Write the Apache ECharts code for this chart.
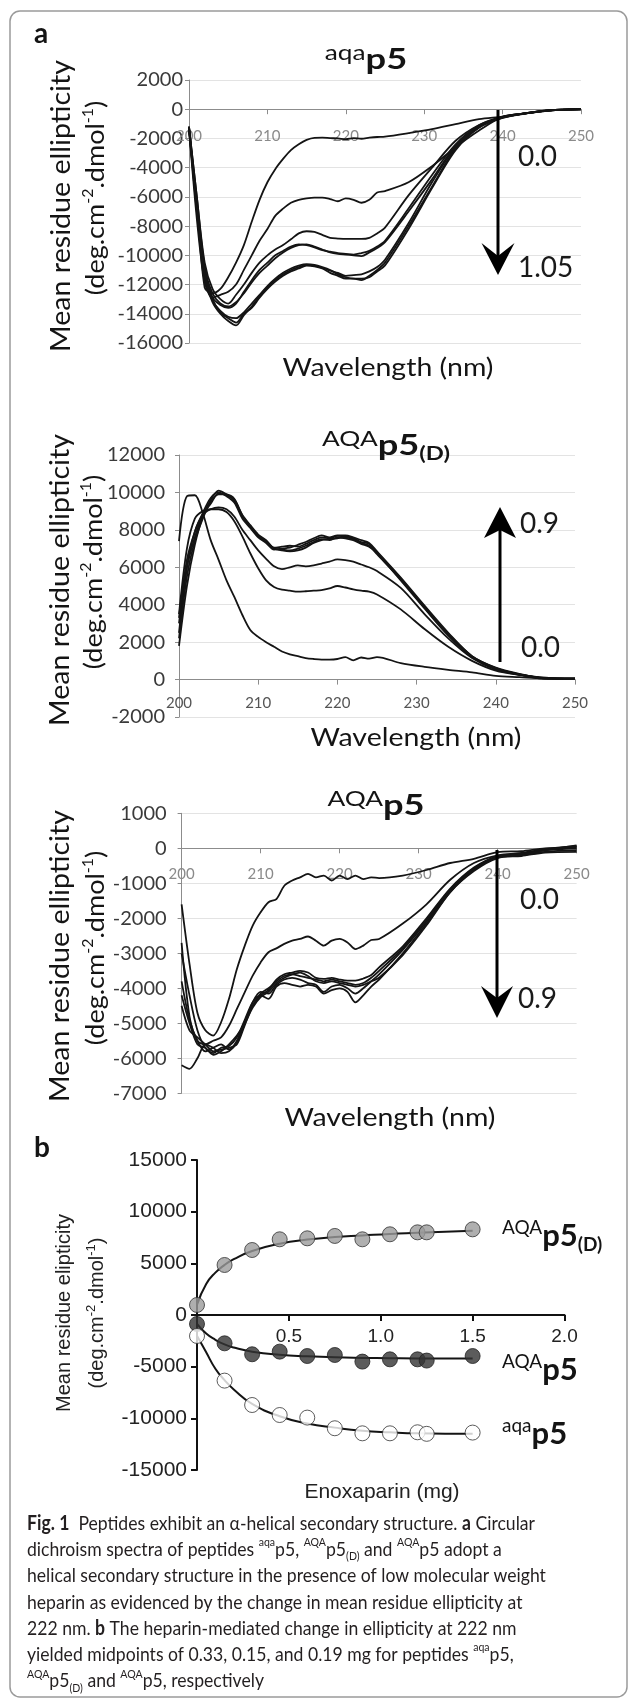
<!DOCTYPE html>
<html><head><meta charset="utf-8">
<script src="https://cdn.jsdelivr.net/npm/echarts@6/dist/echarts.min.js"></script>
<style>html,body{margin:0;padding:0;background:#fff}#c{width:630px;height:1700px}</style>
</head><body><div id="c"></div><script>
// ---------- DATA ----------
// wavelengths (nm) shared by all CD spectra
const WL = [200,201,202,203,204,205,206,207,208,209,210,211,212,213,214,215,216,217,218,219,220,221,222,223,224,225,228,231,234,237,240,243,246,250];

// panel a, top: aqa-p5 spectra (enoxaparin 0.0 -> 1.05 mg)
const aqa_000 = [-1500,-6500,-12200,-12600,-12300,-11500,-10500,-9300,-7700,-6200,-5000,-4100,-3400,-2800,-2400,-2100,-1960,-1950,-1980,-2000,-2050,-1980,-2020,-1950,-1900,-1880,-1640,-1370,-1020,-680,-500,-260,-70,-20];
const aqa_015 = [-1300,-7500,-11800,-12900,-12700,-12500,-12000,-11000,-10000,-9000,-8200,-7300,-6800,-6400,-6200,-6100,-6050,-6050,-6150,-6300,-6100,-6200,-6400,-6200,-5700,-5600,-5000,-3900,-2600,-1450,-520,-280,-80,0];
const aqa_030 = [-1200,-6000,-10500,-12300,-13000,-13300,-12700,-12000,-11200,-10500,-10000,-9600,-9300,-8900,-8500,-8350,-8400,-8600,-8800,-8850,-8880,-8880,-8880,-8800,-8500,-8100,-5900,-4000,-2160,-1080,-500,-280,-80,0];
const aqa_045 = [-1200,-6000,-10800,-12600,-13300,-13500,-13200,-12600,-11850,-11200,-10700,-10200,-9800,-9500,-9300,-9250,-9400,-9600,-9800,-9900,-9950,-10000,-10050,-9800,-9500,-9100,-7000,-4800,-2500,-1150,-550,-280,-90,0];
const aqa_060 = [-1300,-6500,-11000,-12900,-13400,-13600,-13300,-12500,-11700,-11000,-10500,-10000,-9700,-9400,-9250,-9300,-9450,-9650,-9750,-9850,-9900,-9950,-9850,-9700,-9400,-9000,-6800,-4500,-2400,-1100,-540,-270,-80,10];
const aqa_075 = [-1200,-6500,-11000,-13000,-13900,-14300,-14600,-14000,-13600,-12900,-12300,-11800,-11400,-11100,-10900,-10700,-10750,-10900,-11200,-11400,-11600,-11600,-11700,-11400,-11000,-10500,-8000,-5300,-2700,-1250,-580,-280,-80,0];
const aqa_090 = [-1300,-7000,-11500,-13200,-14000,-14500,-14800,-14100,-13500,-12800,-12200,-11700,-11300,-11000,-10800,-10650,-10700,-10850,-11050,-11200,-11400,-11350,-11300,-11100,-10800,-10300,-7800,-5000,-2600,-1200,-560,-270,-70,10];
const aqa_105 = [-1200,-6800,-11200,-13100,-13800,-14200,-14300,-13900,-13300,-12700,-12100,-11600,-11200,-10900,-10700,-10600,-10650,-10800,-11000,-11300,-11500,-11600,-11600,-11500,-11100,-10700,-8200,-5400,-2800,-1250,-590,-290,-90,-10];

// panel a, middle: AQA-p5(D) spectra (0.0 -> 0.9 mg)
const D_000 = [7400,9800,9850,8900,7450,6400,5300,4400,3450,2650,2280,2000,1750,1500,1350,1250,1150,1100,1070,1070,1100,1200,1030,1180,1120,1200,880,680,520,380,200,130,60,50];
const D_015 = [3500,7000,8600,9000,9100,9100,8950,8450,7650,6750,5950,5300,4950,4800,4750,4700,4720,4750,4780,4870,5000,4920,4820,4750,4700,4550,3750,2700,1750,1000,480,250,100,60];
const D_030 = [2500,6000,7900,8800,9100,9200,9100,8700,8000,7450,6900,6450,6050,5900,6000,6100,6050,6100,6200,6300,6420,6380,6300,6150,6000,5800,4900,3500,2200,1150,530,260,100,40];
const D_045 = [1800,5000,7200,8700,9600,10100,9900,9600,8800,8250,7750,7450,7050,7100,7150,7100,7250,7450,7600,7550,7680,7650,7550,7350,7250,6800,5400,3900,2450,1250,620,250,50,60];
const D_060 = [3000,6000,7600,8800,9400,9950,9850,9550,8700,8150,7650,7350,7000,6900,6850,6900,7050,7300,7450,7500,7550,7600,7500,7300,7150,6700,5350,3850,2400,1200,600,280,80,40];
const D_075 = [3300,6400,7900,8900,9700,10000,9800,9450,8600,8100,7600,7300,6950,7000,7050,7200,7350,7550,7700,7600,7700,7700,7600,7450,7300,6850,5450,3950,2500,1250,640,300,60,20];
const D_090 = [2200,5500,7400,8600,9500,9900,9900,9650,8750,8200,7700,7400,7000,6950,6900,7000,7150,7350,7500,7450,7600,7550,7450,7250,7100,6750,5300,3800,2350,1200,590,270,70,50];

// panel a, bottom: AQA-p5 spectra (0.0 -> 0.9 mg)
const E_000 = [-1600,-3300,-4700,-5200,-5350,-4970,-4300,-3450,-2780,-2210,-1830,-1540,-1450,-1070,-920,-830,-730,-830,-780,-920,-780,-880,-780,-880,-830,-850,-780,-620,-420,-300,-110,-80,0,20];
const E_015 = [-2700,-4800,-5500,-5600,-5500,-5400,-5070,-4590,-4110,-3640,-3260,-2970,-2860,-2730,-2640,-2590,-2520,-2640,-2780,-2640,-2590,-2690,-2880,-2780,-2620,-2590,-2150,-1600,-900,-420,-200,-130,-50,0];
const E_030 = [-4500,-5200,-5400,-5600,-5800,-5750,-5700,-5600,-5050,-4500,-4200,-4050,-3750,-3600,-3550,-3500,-3550,-3700,-3730,-3700,-3750,-3780,-3780,-3720,-3620,-3400,-2800,-2000,-1150,-550,-220,-150,-20,60];
const E_045 = [-6200,-6300,-6000,-5600,-5700,-5850,-5800,-5550,-5000,-4400,-4100,-4150,-3900,-3750,-3700,-3750,-3850,-3900,-4100,-3950,-3900,-4000,-4150,-4000,-3800,-3600,-2900,-2100,-1200,-600,-250,-200,-100,-50];
const E_060 = [-3000,-4200,-5200,-5700,-5850,-5700,-5650,-5400,-4900,-4400,-4200,-4300,-3950,-3850,-3900,-3950,-3900,-3950,-4150,-4050,-4000,-4100,-4400,-4200,-3950,-3750,-3000,-2150,-1250,-650,-280,-220,-120,-100];
const E_075 = [-3800,-4900,-5500,-5800,-5700,-5600,-5750,-5500,-4950,-4500,-4150,-4000,-3800,-3650,-3600,-3650,-3700,-3750,-3800,-3750,-3800,-3850,-3900,-3850,-3700,-3500,-2850,-2050,-1180,-580,-230,-170,-40,40];
const E_090 = [-4200,-5000,-5600,-5700,-5900,-5800,-5600,-5350,-5000,-4550,-4250,-4100,-3850,-3700,-3600,-3550,-3650,-3800,-3850,-3800,-3850,-3900,-3950,-3900,-3800,-3700,-3050,-2200,-1250,-620,-260,-200,-60,80];

// panel b: ellipticity at 222 nm vs enoxaparin dose
const doseMg   = [0, 0.15, 0.3, 0.45, 0.6, 0.75, 0.9, 1.05, 1.2, 1.25, 1.5];
const pt_AQA_D = [970, 4840, 6290, 7325, 7420, 7650, 7325, 7810, 8000, 8000, 8290];
const pt_AQA   = [-870, -2740, -3800, -3545, -3970, -3870, -4510, -4290, -4290, -4410, -3970];
const pt_aqa   = [-2030, -6350, -8710, -9680, -9930, -10960, -11450, -11450, -11350, -11500, -11380];
// fitted curves
const fitDose   = [0, 0.05, 0.1, 0.15, 0.2, 0.3, 0.45, 0.6, 0.75, 0.9, 1.05, 1.2, 1.5];
const fit_AQA_D = [1000, 3000, 4100, 4850, 5400, 6200, 6900, 7300, 7550, 7700, 7850, 7950, 8150];
const fit_AQA   = [-850, -1800, -2400, -2850, -3150, -3550, -3850, -4000, -4100, -4150, -4180, -4200, -4200];
const fit_aqa   = [-2000, -3600, -5200, -6300, -7200, -8600, -9800, -10500, -10900, -11200, -11350, -11450, -11500];

// ---------- CHART ----------
const chart = echarts.init(document.getElementById('c'), null, {renderer:'canvas'});
const INK = '#141414';

function spectra(list, gi){
  return list.map(arr => ({
    type:'line', xAxisIndex:gi, yAxisIndex:gi, silent:true,
    data: WL.map((w,i)=>[w, arr[i]]), showSymbol:false, smooth:0.3,
    lineStyle:{color:INK, width:1.8}, z:3
  }));
}
// x axis drawn through y = 0 (offset from the grid bottom)
function aX(gi, color, margin, offset){
  return {type:'value', gridIndex:gi, min:200, max:250, interval:10, position:'bottom', offset:offset,
    axisLine:{onZero:false, lineStyle:{color:'#8c8c8c', width:1}},
    axisTick:{show:true, length:5, lineStyle:{color:'#8c8c8c'}},
    axisLabel:{color:color, fontFamily:'Lato', fontSize:15, margin:margin},
    splitLine:{show:false}};
}
function aY(gi, min, max, interval, margin){
  return {type:'value', gridIndex:gi, min:min, max:max, interval:interval,
    axisLine:{show:true, onZero:false, lineStyle:{color:'#8c8c8c', width:1}},
    axisTick:{show:true, length:4, lineStyle:{color:'#8c8c8c'}},
    axisLabel:{color:'#3a3a3a', fontFamily:'Lato', fontSize:20, margin:margin, formatter:v=>String(v)},
    splitLine:{show:true, lineStyle:{color:'#e3e3e3', width:1}}};
}

function T(x, y, text, style, extra){
  return Object.assign({type:'text', x:x, y:y, silent:true, z:50,
    style:Object.assign({text:text, x:0, y:0, align:'center', verticalAlign:'middle', fill:INK}, style)}, extra||{});
}
const titleRich = {
  s:{fontFamily:'Lato', fontSize:21, lineHeight:23, verticalAlign:'top', fill:INK},
  m:{fontFamily:'Lato', fontSize:29, fontWeight:'bold', lineHeight:35, verticalAlign:'middle', fill:INK},
  d:{fontFamily:'Lato', fontSize:19, fontWeight:'bold', lineHeight:22, verticalAlign:'bottom', fill:INK}
};
const yNameRich = {
  m:{fontFamily:'Lato', fontSize:25.5, lineHeight:30, verticalAlign:'middle', fill:INK},
  s:{fontFamily:'Lato', fontSize:15, lineHeight:17, verticalAlign:'top', fill:INK}
};
const bRich = {
  s:{fontFamily:'Lato', fontSize:19, lineHeight:22, verticalAlign:'top', fill:INK},
  m:{fontFamily:'Lato', fontSize:31, fontWeight:'bold', lineHeight:36, verticalAlign:'middle', fill:INK},
  d:{fontFamily:'Lato', fontSize:19, fontWeight:'bold', lineHeight:22, verticalAlign:'bottom', fill:INK}
};
const bNameRich = {
  m:{fontFamily:'Liberation Sans', fontSize:20, lineHeight:24, verticalAlign:'middle', fill:'#222'},
  s:{fontFamily:'Liberation Sans', fontSize:13, lineHeight:14, verticalAlign:'top', fill:'#222'}
};
const capRich = {
  n:{fontFamily:'Lato', fontSize:20, lineHeight:26.3, verticalAlign:'middle', fill:'#231f20'},
  b:{fontFamily:'Lato', fontSize:20, fontWeight:'bold', lineHeight:26.3, verticalAlign:'middle', fill:'#231f20'},
  s:{fontFamily:'Lato', fontSize:12, lineHeight:17, verticalAlign:'top', fill:'#231f20'},
  d:{fontFamily:'Lato', fontSize:12, lineHeight:16, verticalAlign:'bottom', fill:'#231f20'}
};
function arrow(x, y0, tip, base, notch, hw){
  return [
    {type:'line', silent:true, z:40, shape:{x1:x, y1:y0, x2:x, y2:notch}, style:{stroke:'#000', lineWidth:3}},
    {type:'polygon', silent:true, z:40, shape:{points:[[x-hw,base],[x,tip],[x+hw,base],[x,notch]]}, style:{fill:'#000'}}
  ];
}
const yName1 = 'Mean residue ellipticity';
const yName2 = '{m|(deg.cm}{s|-2}{m|.dmol}{s|-1}{m|)}';
const R = Math.PI/2;

const graphics = [
  {type:'rect', silent:true, z:1, shape:{x:10, y:11, width:617, height:1686, r:10}, style:{fill:null, stroke:'#9a9a9a', lineWidth:1.5}},
  T(41, 34, 'a', {fontFamily:'Lato', fontSize:28, fontWeight:'bold'}),
  T(42, 1148, 'b', {fontFamily:'Lato', fontSize:28, fontWeight:'bold'}),
  // panel titles
  T(366, 60, '{s|aqa}{m|p5}', {rich:titleRich}, {scaleX:1.25}),
  T(386, 446, '{s|AQA}{m|p5}{d|(D)}', {rich:titleRich}, {scaleX:1.25}),
  T(376, 806, '{s|AQA}{m|p5}', {rich:titleRich}, {scaleX:1.25}),
  // y-axis names
  T(61, 206, yName1, {fontFamily:'Lato', fontSize:27}, {rotation:R, scaleX:1.06}),
  T(96, 198, yName2, {rich:yNameRich}, {rotation:R, scaleX:1.06}),
  T(60, 580, yName1, {fontFamily:'Lato', fontSize:27}, {rotation:R, scaleX:1.06}),
  T(94, 572, yName2, {rich:yNameRich}, {rotation:R, scaleX:1.06}),
  T(60, 956, yName1, {fontFamily:'Lato', fontSize:27}, {rotation:R, scaleX:1.06}),
  T(96, 948, yName2, {rich:yNameRich}, {rotation:R, scaleX:1.06}),
  // x-axis names
  T(388, 368, 'Wavelength (nm)', {fontFamily:'Lato', fontSize:25}, {scaleX:1.14}),
  T(416, 738, 'Wavelength (nm)', {fontFamily:'Lato', fontSize:25}, {scaleX:1.14}),
  T(390, 1118, 'Wavelength (nm)', {fontFamily:'Lato', fontSize:25}, {scaleX:1.14}),
  // arrow labels
  T(518, 157, '0.0', {fontFamily:'Lato', fontSize:28, align:'left', fill:'#1a1a1a'}),
  T(518, 268, '1.05', {fontFamily:'Lato', fontSize:28, align:'left', fill:'#1a1a1a'}),
  T(520, 524, '0.9', {fontFamily:'Lato', fontSize:28, align:'left', fill:'#1a1a1a'}),
  T(521, 648, '0.0', {fontFamily:'Lato', fontSize:28, align:'left', fill:'#1a1a1a'}),
  T(520, 900, '0.0', {fontFamily:'Lato', fontSize:28, align:'left', fill:'#1a1a1a'}),
  T(518, 999, '0.9', {fontFamily:'Lato', fontSize:28, align:'left', fill:'#1a1a1a'}),
  // panel b texts
  T(64, 1313, 'Mean residue elipticity', {fontFamily:'Liberation Sans', fontSize:20, fill:'#222'}, {rotation:R}),
  T(97, 1313, '{m|(deg.cm}{s|-2}{m|.dmol}{s|-1}{m|)}', {rich:bNameRich}, {rotation:R}),
  T(382, 1492, 'Enoxaparin (mg)', {fontFamily:'Liberation Sans', fontSize:21, fill:'#222'}),
  T(502, 1236, '{s|AQA}{m|p5}{d|(D)}', {rich:bRich, align:'left'}),
  T(502, 1370, '{s|AQA}{m|p5}', {rich:bRich, align:'left'}),
  T(502, 1434, '{s|aqa}{m|p5}', {rich:bRich, align:'left'}),
  // caption
  T(27, 1510,
    '{b|Fig. 1}{n|  Peptides exhibit an α-helical secondary structure. }{b|a}{n| Circular}\n' +
    '{n|dichroism spectra of peptides }{s|aqa}{n|p5, }{s|AQA}{n|p5}{d|(D)}{n| and }{s|AQA}{n|p5 adopt a}\n' +
    '{n|helical secondary structure in the presence of low molecular weight}\n' +
    '{n|heparin as evidenced by the change in mean residue ellipticity at}\n' +
    '{n|222 nm. }{b|b}{n| The heparin-mediated change in ellipticity at 222 nm}\n' +
    '{n|yielded midpoints of 0.33, 0.15, and 0.19 mg for peptides }{s|aqa}{n|p5,}\n' +
    '{s|AQA}{n|p5}{d|(D)}{n| and }{s|AQA}{n|p5, respectively}',
    {rich:capRich, align:'left', verticalAlign:'top'}, {scaleX:0.88})
].concat(
  arrow(498, 110, 275, 243, 256, 16.5),
  arrow(500, 662, 507, 538, 530, 16),
  arrow(497, 850, 1018, 986, 998, 16)
);

const option = {
  animation:false,
  backgroundColor:'#fff',
  textStyle:{fontFamily:'Lato'},
  grid:[
    {left:189, top:80, width:392, height:263, outerBoundsMode:'none'},
    {left:179, top:455, width:396, height:262, outerBoundsMode:'none'},
    {left:181.6, top:813.3, width:395, height:280, outerBoundsMode:'none'},
    {left:197, top:1160, width:367.5, height:310, outerBoundsMode:'none'}
  ],
  xAxis:[
    aX(0, '#8a8a8a', 19, -233.8),
    aX(1, '#555555', 16, -37.4),
    aX(2, '#8a8a8a', 18, -245),
    {type:'value', gridIndex:3, min:0, max:2, interval:0.5, position:'bottom', offset:-155,
      axisLine:{onZero:false, lineStyle:{color:'#111', width:2}},
      axisTick:{show:true, length:6, lineStyle:{color:'#111', width:2}},
      axisLabel:{fontFamily:'Liberation Sans', fontSize:19, color:'#222', margin:12,
        formatter:v=> v===0 ? '' : v.toFixed(1)},
      splitLine:{show:false}}
  ],
  yAxis:[
    aY(0, -16000, 2000, 2000, 6),
    aY(1, -2000, 12000, 2000, 14),
    aY(2, -7000, 1000, 1000, 15),
    {type:'value', gridIndex:3, min:-15000, max:15000, interval:5000,
      axisLine:{show:true, onZero:false, lineStyle:{color:'#111', width:2}},
      axisTick:{show:true, length:6, lineStyle:{color:'#111', width:2}},
      axisLabel:{fontFamily:'Liberation Sans', fontSize:21, color:'#222', margin:10, formatter:v=>String(v)},
      splitLine:{show:false}}
  ],
  series: [].concat(
    spectra([aqa_000, aqa_015, aqa_030, aqa_045, aqa_060, aqa_075, aqa_090, aqa_105], 0),
    spectra([D_000, D_015, D_030, D_045, D_060, D_075, D_090], 1),
    spectra([E_000, E_015, E_030, E_045, E_060, E_075, E_090], 2),
    [
      {type:'line', xAxisIndex:3, yAxisIndex:3, silent:true, showSymbol:false, smooth:0.5, z:3,
        data: fitDose.map((d,i)=>[d, fit_AQA_D[i]]), lineStyle:{color:INK, width:2}},
      {type:'line', xAxisIndex:3, yAxisIndex:3, silent:true, showSymbol:false, smooth:0.5, z:3,
        data: fitDose.map((d,i)=>[d, fit_AQA[i]]), lineStyle:{color:INK, width:2}},
      {type:'line', xAxisIndex:3, yAxisIndex:3, silent:true, showSymbol:false, smooth:0.5, z:3,
        data: fitDose.map((d,i)=>[d, fit_aqa[i]]), lineStyle:{color:INK, width:2}},
      {type:'scatter', xAxisIndex:3, yAxisIndex:3, silent:true, z:5, symbolSize:15,
        data: doseMg.map((d,i)=>[d, pt_AQA_D[i]]), itemStyle:{color:'#9b9b9b', borderColor:'#333', borderWidth:1}},
      {type:'scatter', xAxisIndex:3, yAxisIndex:3, silent:true, z:5, symbolSize:15,
        data: doseMg.map((d,i)=>[d, pt_AQA[i]]), itemStyle:{color:'#333333', borderColor:'#222', borderWidth:1}},
      {type:'scatter', xAxisIndex:3, yAxisIndex:3, silent:true, z:5, symbolSize:15,
        data: doseMg.map((d,i)=>[d, pt_aqa[i]]), itemStyle:{color:'#ffffff', borderColor:'#333', borderWidth:1}}
    ]
  ),
  graphic:{elements:graphics}
};
chart.setOption(option);
</script></body></html>
